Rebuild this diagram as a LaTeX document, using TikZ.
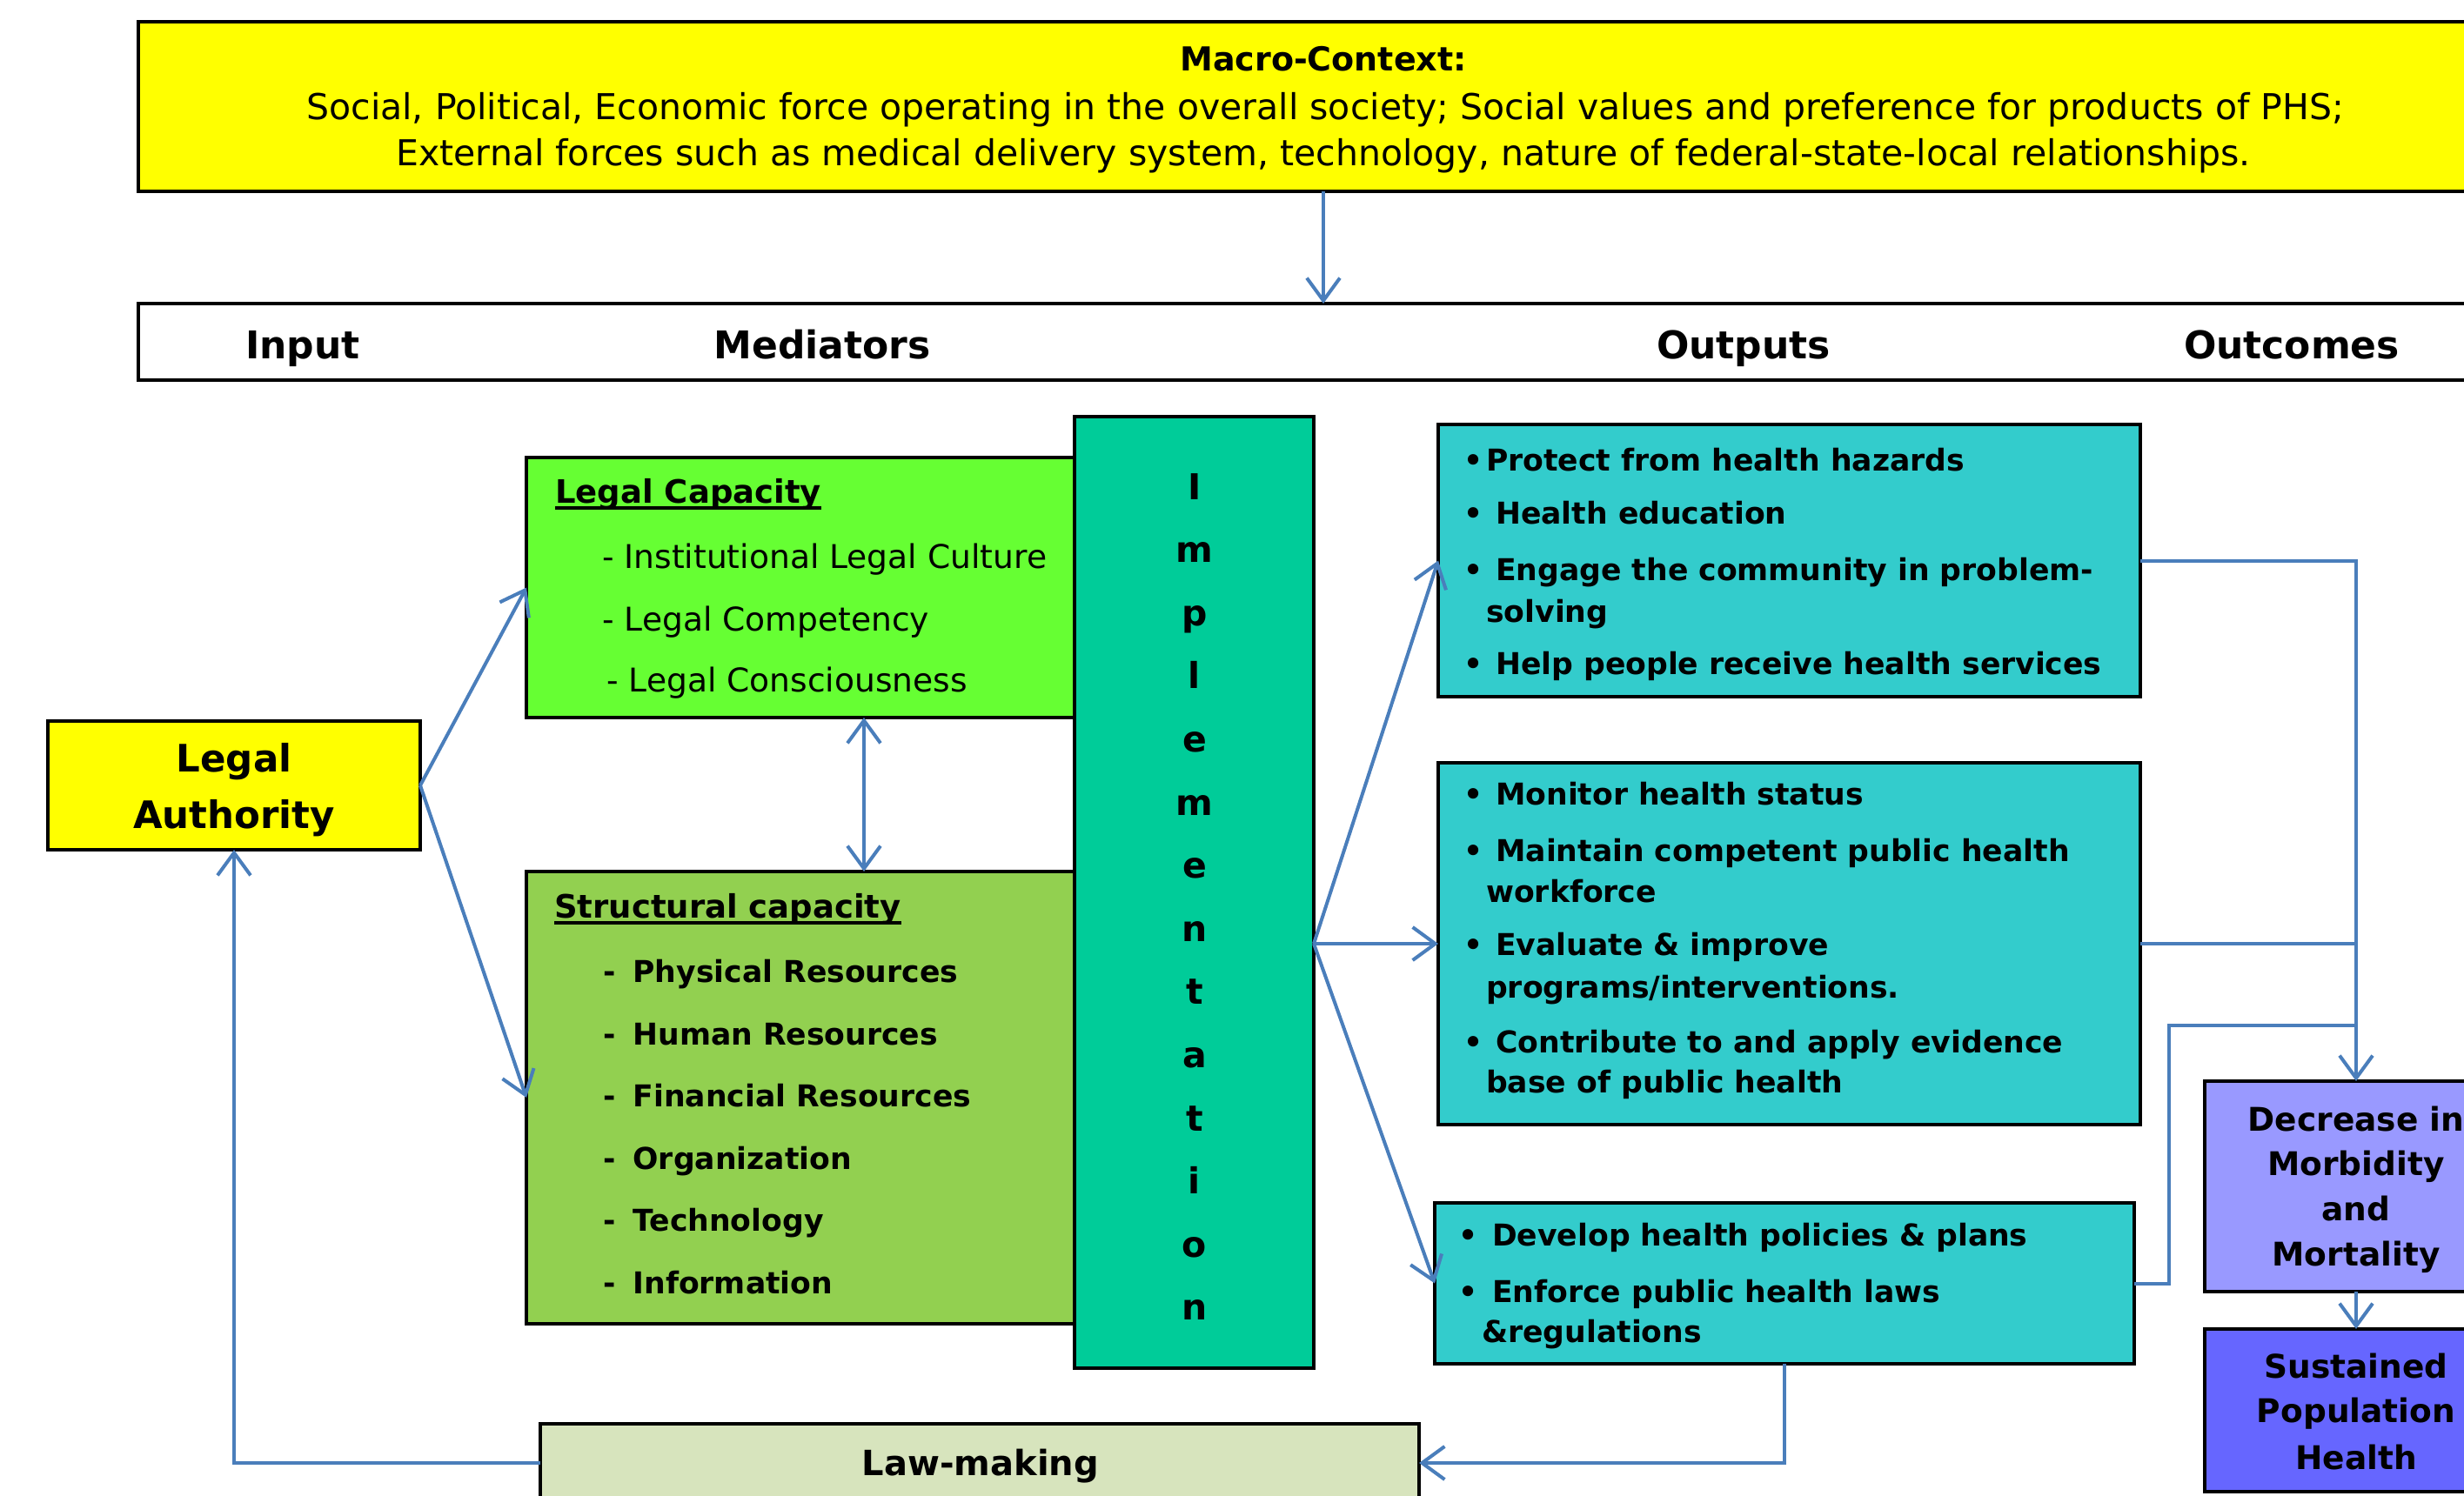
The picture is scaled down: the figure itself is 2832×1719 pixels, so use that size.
\documentclass[tikz,border=0pt]{standalone}
\usepackage{fontspec}
\setmainfont{DejaVu Sans}
\usetikzlibrary{arrows.meta,calc}
\definecolor{linkblue}{RGB}{74,126,187}
\definecolor{macroyellow}{RGB}{255,255,0}
\definecolor{lcgreen}{RGB}{102,255,51}
\definecolor{scgreen}{RGB}{146,208,80}
\definecolor{implgreen}{RGB}{0,204,153}
\definecolor{outcyan}{RGB}{51,204,204}
\definecolor{decblue}{RGB}{153,153,255}
\definecolor{susblue}{RGB}{102,102,255}
\definecolor{lawolive}{RGB}{215,228,189}
\newcommand\pxsize[1]{\fontsize{#1}{#1}\selectfont}
\begin{document}
\begin{tikzpicture}[x=1pt,y=-1pt,
  box/.style={draw=black,line width=4.5pt,inner sep=0pt,outer sep=0pt,anchor=north west},
  conn/.style={draw=linkblue,line width=4pt},
  arr/.style={conn,-{Straight Barb[length=26pt,width=38pt]}},
  darr/.style={conn,{Straight Barb[length=26pt,width=38pt]}-{Straight Barb[length=26pt,width=38pt]}},
  lbl/.style={inner sep=0pt,anchor=base west},
  ctr/.style={inner sep=0pt,anchor=base},
  itm/.style={lbl,font={\bfseries\pxsize{34.6}}},
  bul/.style={ctr,font={\bfseries\pxsize{34.6}}}
]
\useasboundingbox (0,0) rectangle (2832,1719);
\clip (0,0) rectangle (2832,1719);

% boxes
\node[box,fill=macroyellow,minimum width=2724pt,minimum height=195pt] (macro) at (159,25) {};
\node[box,fill=white,minimum width=2724pt,minimum height=88pt] (header) at (159,349) {};
\node[box,fill=macroyellow,minimum width=428pt,minimum height=148pt] (la) at (55,829) {};
\node[box,fill=lcgreen,minimum width=632pt,minimum height=299pt] (lc) at (605,526) {};
\node[box,fill=scgreen,minimum width=632pt,minimum height=520pt] (sc) at (605,1002) {};
\node[box,fill=implgreen,minimum width=275pt,minimum height=1094pt] (impl) at (1235,479) {};
\node[box,fill=outcyan,minimum width=807pt,minimum height=313pt] (o1) at (1653,488) {};
\node[box,fill=outcyan,minimum width=807pt,minimum height=416pt] (o2) at (1653,877) {};
\node[box,fill=outcyan,minimum width=804pt,minimum height=185pt] (o3) at (1649,1383) {};
\node[box,fill=decblue,minimum width=348pt,minimum height=242pt] (dec) at (2534,1243) {};
\node[box,fill=susblue,minimum width=348pt,minimum height=187pt] (sus) at (2534,1528) {};
\node[box,fill=lawolive,minimum width=1010pt,minimum height=90pt] (law) at (621,1637) {};

% helper coordinates
\coordinate (dx) at (993,0);
\coordinate (j3) at (2493,1179);

% connectors
\draw[arr] (macro.south) -- (header.north);
\draw[arr] (la.east) -- (lc.west);
\draw[arr] (la.east) -- (sc.west);
\draw[darr] (lc.south -| dx) -- (sc.north -| dx);
\draw[arr] (impl.east |- o2.west) -- (o1.west);
\draw[arr] (impl.east |- o2.west) -- (o2.west);
\draw[arr] (impl.east |- o2.west) -- (o3.west);
\draw[arr] (o1.east) -| (dec.north);
\draw[conn] (o2.east) -- (o2.east -| dec.north);
\draw[conn] (o3.east) -| (j3) -- (j3 -| dec.north);
\draw[arr] (dec.south) -- (sus.north);
\draw[arr] (o3.south) |- (law.east);
\draw[arr] (law.west) -| (la.south);

% macro text
\node[ctr,font={\bfseries\pxsize{38}}] (mc1) at (1521,81) {Macro-Context:};
\node[ctr,font={\pxsize{41}}] (mc2) at (1523,137) {Social, Political, Economic force operating in the overall society; Social values and preference for products of PHS;};
\node[ctr,font={\pxsize{41}}] (mc3) at (1521,190) {External forces such as medical delivery system, technology, nature of federal-state-local relationships.};

% header labels
\node[ctr,font={\bfseries\pxsize{44}}] (hin) at (348,412) {Input};
\node[ctr,font={\bfseries\pxsize{44}}] (hmed) at (945,412) {Mediators};
\node[ctr,font={\bfseries\pxsize{44}}] (hout) at (2004,412) {Outputs};
\node[ctr,font={\bfseries\pxsize{44}}] (hoc) at (2634,412) {Outcomes};

% legal authority
\node[ctr,font={\bfseries\pxsize{43.5}}] (la1) at (269,887) {Legal};
\node[ctr,font={\bfseries\pxsize{43.5}}] (la2) at (269,952) {Authority};

% legal capacity
\node[lbl,font={\bfseries\pxsize{37}}] (lct) at (638,578) {Legal Capacity};
\draw[line width=4pt] ([yshift=-6pt]lct.base west) -- ([yshift=-6pt]lct.base east);
\node[lbl,font={\pxsize{37.6}}] (lc1) at (692,653) {- Institutional Legal Culture};
\node[lbl,font={\pxsize{37.6}}] (lc2) at (692,725) {- Legal Competency};
\node[lbl,font={\pxsize{37.6}}] (lc3) at (697,795) {- Legal Consciousness};

% structural capacity
\node[lbl,font={\bfseries\pxsize{37}}] (sct) at (637,1055) {Structural capacity};
\draw[line width=4pt] ([yshift=-6pt]sct.base west) -- ([yshift=-6pt]sct.base east);
\node[itm] (sc1) at (693,1129) {-\hskip 20pt Physical Resources};
\node[itm] (sc2) at (693,1201) {-\hskip 20pt Human Resources};
\node[itm] (sc3) at (693,1272) {-\hskip 20pt Financial Resources};
\node[itm] (sc4) at (693,1344) {-\hskip 20pt Organization};
\node[itm] (sc5) at (693,1415) {-\hskip 20pt Technology};
\node[itm] (sc6) at (693,1487) {-\hskip 20pt Information};

% implementation letters
\foreach \c [count=\i] in {I,m,p,l,e,m,e,n,t,a,t,i,o,n}
  \node[ctr,font={\bfseries\pxsize{41}}] (imp\i) at (1373,{574+72.6*(\i-1)}) {\c};

% output box 1
\node[bul] (b11) at (1694,541) {•};
\node[itm] (t11) at (1708,541) {Protect from health hazards};
\node[bul] (b12) at (1694,602) {•};
\node[itm] (t12) at (1719,602) {Health education};
\node[bul] (b13) at (1694,667) {•};
\node[itm] (t13) at (1719,667) {Engage the community in problem-};
\node[itm] (t13b) at (1708,715) {solving};
\node[bul] (b14) at (1694,775) {•};
\node[itm] (t14) at (1719,775) {Help people receive health services};

% output box 2
\node[bul] (b21) at (1694,925) {•};
\node[itm] (t21) at (1719,925) {Monitor health status};
\node[bul] (b22) at (1694,990) {•};
\node[itm] (t22) at (1719,990) {Maintain competent public health};
\node[itm] (t22b) at (1708,1037) {workforce};
\node[bul] (b23) at (1694,1098) {•};
\node[itm] (t23) at (1719,1098) {Evaluate \& improve};
\node[itm] (t23b) at (1708,1147) {programs/interventions.};
\node[bul] (b24) at (1694,1210) {•};
\node[itm] (t24) at (1719,1210) {Contribute to and apply evidence};
\node[itm] (t24b) at (1708,1256) {base of public health};

% output box 3
\node[bul] (b31) at (1688,1432) {•};
\node[itm] (t31) at (1715,1432) {Develop health policies \& plans};
\node[bul] (b32) at (1688,1497) {•};
\node[itm] (t32) at (1715,1497) {Enforce public health laws};
\node[itm] (t32b) at (1703,1543) {\&regulations};

% outcomes
\node[ctr,font={\bfseries\pxsize{37.5}}] (d1) at (2708,1300) {Decrease in};
\node[ctr,font={\bfseries\pxsize{37.5}}] (d2) at (2708,1351) {Morbidity};
\node[ctr,font={\bfseries\pxsize{37.5}}] (d3) at (2708,1403) {and};
\node[ctr,font={\bfseries\pxsize{37.5}}] (d4) at (2708,1455) {Mortality};
\node[ctr,font={\bfseries\pxsize{37.5}}] (s1) at (2708,1584) {Sustained};
\node[ctr,font={\bfseries\pxsize{37.5}}] (s2) at (2708,1635) {Population};
\node[ctr,font={\bfseries\pxsize{37.5}}] (s3) at (2708,1689) {Health};

% law-making
\node[ctr,font={\bfseries\pxsize{40}}] (lawt) at (1127,1696) {Law-making};
\end{tikzpicture}
\end{document}
